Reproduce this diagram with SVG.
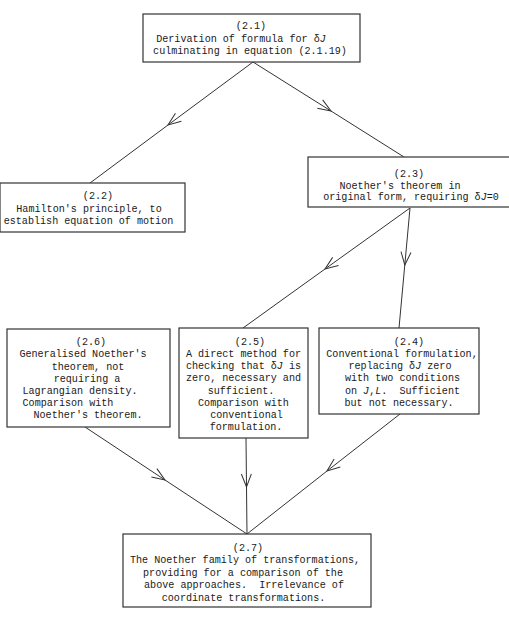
<svg xmlns="http://www.w3.org/2000/svg" width="509" height="635" viewBox="0 0 509 635">
<style>
.box{fill:#fff;stroke:#333;stroke-width:1.2}
.t{font-family:"Liberation Mono","DejaVu Sans Mono",monospace;font-size:10.1px;fill:#1a1a1a;text-anchor:middle;white-space:pre}
.i{font-style:italic}
.c{fill:none;stroke:#333;stroke-width:1}
</style>
<defs>
<marker id="v" viewBox="-14 -6 15 12" markerWidth="15" markerHeight="12" refX="0" refY="0" orient="auto" markerUnits="userSpaceOnUse">
<path d="M-13,-5 L0,0 L-13,5" fill="none" stroke="#333" stroke-width="1"/>
</marker>
</defs>
<rect width="509" height="635" fill="#fff"/>
<g id="connectors">
<path class="c" marker-mid="url(#v)" d="M253,62 L168,125 L90,183"/>
<path class="c" marker-mid="url(#v)" d="M253,62 L331,111 L404,157"/>
<path class="c" marker-mid="url(#v)" d="M410,208 L325,269 L243,328"/>
<path class="c" marker-mid="url(#v)" d="M410,208 L404.8,265 L399,328"/>
<path class="c" marker-mid="url(#v)" d="M85,427 L165,480 L247,534"/>
<path class="c" marker-mid="url(#v)" d="M246,438 L246.5,487 L247,534"/>
<path class="c" marker-mid="url(#v)" d="M400,414 L327,471 L247,534"/>
</g>
<g id="n21">
<rect class="box" x="143" y="14" width="217" height="48"/>
<text class="t" x="251" y="28.5">(2.1)</text>
<text class="t" x="241" y="41.5">Derivation of formula for δ<tspan class="i">J</tspan></text>
<text class="t" x="250" y="54">culminating in equation (2.1.19)</text>
</g>
<g id="n22">
<rect class="box" x="0" y="183" width="185" height="49"/>
<text class="t" x="98" y="198.5">(2.2)</text>
<text class="t" x="89" y="211.5">Hamilton's principle, to</text>
<text class="t" x="88.5" y="223.5">establish equation of motion</text>
</g>
<g id="n23">
<rect class="box" x="308" y="157" width="210" height="50"/>
<text class="t" x="409" y="176.5">(2.3)</text>
<text class="t" x="400" y="188.5">Noether's theorem in</text>
<text class="t" x="411" y="200">original form, requiring δ<tspan class="i">J</tspan>=0</text>
</g>
<g id="n26">
<rect class="box" x="7" y="329" width="163" height="98"/>
<text class="t" x="91" y="345">(2.6)</text>
<text class="t" x="83" y="357">Generalised Noether's</text>
<text class="t" x="88" y="369.5">theorem, not</text>
<text class="t" x="87" y="381.5">requiring a</text>
<text class="t" x="80" y="394">Lagrangian density.</text>
<text class="t" x="68" y="405.5">Comparison with</text>
<text class="t" x="88" y="417.5">Noether's theorem.</text>
</g>
<g id="n25">
<rect class="box" x="179" y="328" width="129" height="110"/>
<text class="t" x="250" y="344.5">(2.5)</text>
<text class="t" x="243.5" y="357">A direct method for</text>
<text class="t" x="243.5" y="369">checking that δ<tspan class="i">J</tspan> is</text>
<text class="t" x="243.5" y="381">zero, necessary and</text>
<text class="t" x="241" y="393.5">sufficient.</text>
<text class="t" x="243.5" y="405.5">Comparison with</text>
<text class="t" x="246.5" y="418">conventional</text>
<text class="t" x="246" y="430">formulation.</text>
</g>
<g id="n24">
<rect class="box" x="319" y="328" width="160" height="86"/>
<text class="t" x="409" y="344.5">(2.4)</text>
<text class="t" x="402" y="357">Conventional formulation,</text>
<text class="t" x="400" y="369">replacing δ<tspan class="i">J</tspan> zero</text>
<text class="t" x="402.5" y="381">with two conditions</text>
<text class="t" x="402.5" y="393.5">on <tspan class="i">J</tspan>,<tspan class="i">L</tspan>.  Sufficient</text>
<text class="t" x="399" y="405.5">but not necessary.</text>
</g>
<g id="n27">
<rect class="box" x="123" y="534" width="248" height="73"/>
<text class="t" x="248" y="550.5">(2.7)</text>
<text class="t" x="245" y="563">The Noether family of transformations,</text>
<text class="t" x="243" y="575.5">providing for a comparison of the</text>
<text class="t" x="244" y="587.5">above approaches.  Irrelevance of</text>
<text class="t" x="243.5" y="600.5">coordinate transformations.</text>
</g>
</svg>
